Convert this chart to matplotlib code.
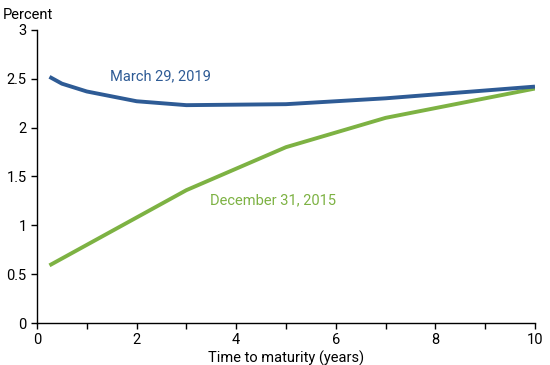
import numpy as np
import matplotlib
matplotlib.use("Agg")
import matplotlib.pyplot as plt

plt.rcParams['font.family'] = ['Roboto', 'DejaVu Sans']

maturity = [0.25, 0.5, 1, 2, 3, 5, 7, 10]
yield_2019 = [2.52, 2.45, 2.37, 2.27, 2.23, 2.24, 2.30, 2.42]
yield_2015 = [0.59, 0.66, 0.80, 1.08, 1.36, 1.80, 2.10, 2.40]

blue = '#2e5b95'
green = '#7db243'

fig = plt.figure(figsize=(5.5, 3.65), dpi=100)
ax = fig.add_axes([0.0673, 0.115, 0.9054, 0.803])

ax.plot(maturity, yield_2015, color=green, lw=2.8, solid_capstyle='butt')
ax.plot(maturity, yield_2019, color=blue, lw=2.8, solid_capstyle='butt')

ax.text(1.47, 2.53, "March 29, 2019", color=blue, fontsize=10.5, va='center')
ax.text(3.47, 1.255, "December 31, 2015", color=green, fontsize=10.5, va='center')

ax.set_xlim(0, 10)
ax.set_ylim(0, 3)
ax.set_xticks(np.arange(0, 11, 1))
ax.set_xticklabels([str(v) if v % 2 == 0 else '' for v in range(11)])
ax.set_yticks([0, 0.5, 1, 1.5, 2, 2.5, 3])
ax.set_yticklabels(['0', '0.5', '1', '1.5', '2', '2.5', '3'])
ax.tick_params(labelsize=10.5, length=4, width=1, colors='black')
for s in ['top', 'right']:
    ax.spines[s].set_visible(False)
for s in ['left', 'bottom']:
    ax.spines[s].set_linewidth(1)
ax.set_xlabel("Time to maturity (years)", fontsize=10.5, labelpad=2)
fig.text(0.005, 0.96, "Percent", fontsize=10.5, va='center', ha='left')

fig.savefig("out.png", dpi=100)
